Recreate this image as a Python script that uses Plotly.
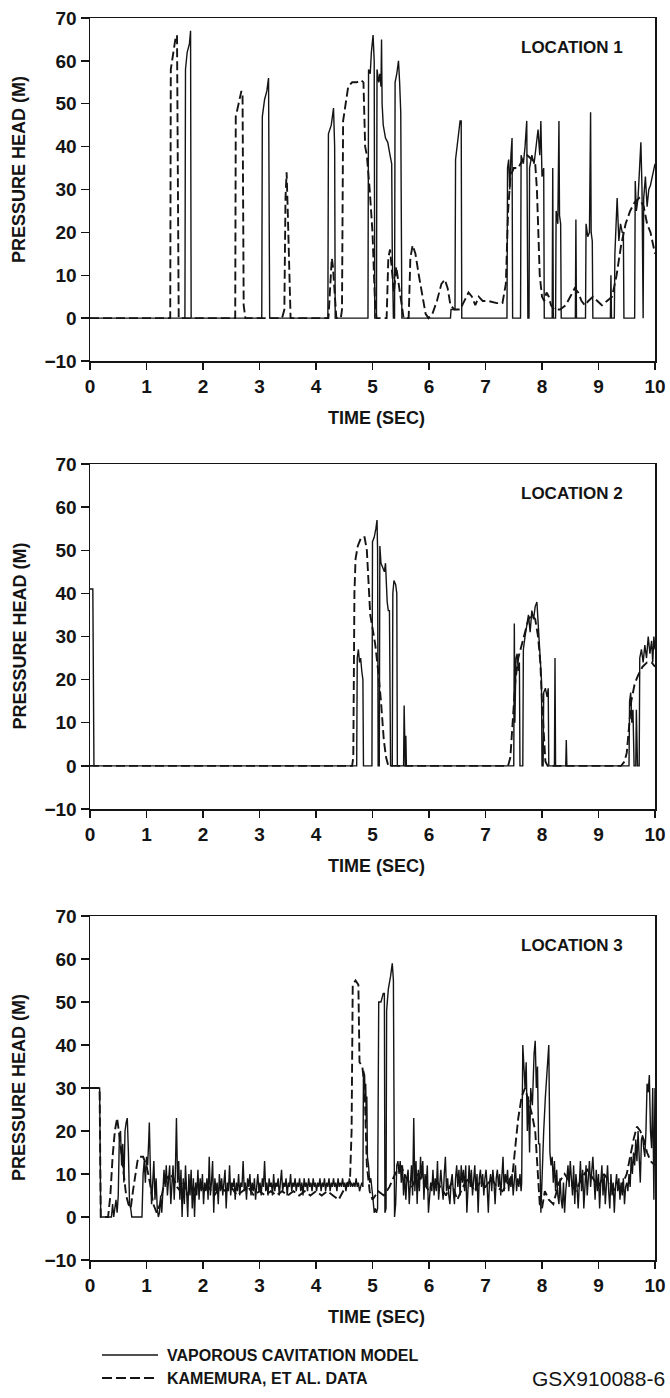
import plotly.graph_objects as go

# ---------------- DATA (time s, pressure head m) ----------------
LOC1_MODEL = [
    (0, 0), (1.68, 0), (1.69, 58), (1.72, 62), (1.76, 64), (1.78, 67), (1.79, 0),
    (3.04, 0), (3.05, 47), (3.09, 51), (3.13, 53), (3.16, 56), (3.18, 0),
    (4.21, 0), (4.22, 43), (4.27, 45), (4.31, 49), (4.33, 40), (4.34, 0),
    (4.92, 0), (4.93, 58), (4.96, 57), (4.98, 62), (5.01, 66), (5.03, 60), (5.04, 0),
    (5.07, 0), (5.08, 58), (5.11, 55), (5.13, 57), (5.15, 54), (5.16, 65), (5.17, 50),
    (5.19, 45), (5.23, 42), (5.27, 41), (5.31, 38), (5.34, 36), (5.35, 15), (5.36, 8), (5.37, 0),
    (5.39, 0), (5.40, 55), (5.43, 57), (5.46, 60), (5.48, 55), (5.50, 48), (5.52, 0),
    (6.38, 0), (6.39, 2), (6.46, 2), (6.47, 37), (6.50, 40), (6.53, 44), (6.55, 46),
    (6.57, 46), (6.58, 0),
    (7.38, 0), (7.39, 35), (7.41, 37), (7.43, 30), (7.45, 38), (7.47, 42), (7.48, 0),
    (7.62, 0), (7.63, 38), (7.67, 36), (7.70, 40), (7.73, 46), (7.75, 0), (7.77, 0),
    (7.78, 35), (7.82, 38), (7.86, 36), (7.90, 41), (7.93, 44), (7.96, 38), (7.98, 46),
    (8.00, 33), (8.03, 35), (8.04, 0),
    (8.18, 0), (8.19, 35), (8.20, 0), (8.24, 0), (8.25, 25), (8.28, 22), (8.30, 46),
    (8.31, 24), (8.33, 22), (8.34, 0),
    (8.59, 0), (8.60, 23), (8.61, 0), (8.77, 0), (8.78, 22), (8.81, 19), (8.84, 20),
    (8.86, 48), (8.87, 20), (8.89, 18), (8.90, 0),
    (9.21, 0), (9.22, 10), (9.23, 0), (9.28, 0), (9.29, 15), (9.31, 22), (9.33, 28),
    (9.36, 18), (9.39, 22), (9.42, 20), (9.44, 20), (9.45, 0),
    (9.64, 0), (9.65, 32), (9.67, 25), (9.70, 28), (9.73, 35), (9.75, 41), (9.77, 30),
    (9.79, 0), (9.80, 28), (9.83, 33), (9.86, 26), (9.89, 30), (9.92, 31), (9.95, 33),
    (9.98, 35), (10.0, 36),
]
LOC1_DATA = [
    (0, 0), (1.42, 0), (1.43, 58), (1.47, 62), (1.51, 65), (1.54, 66), (1.56, 1), (1.57, 0),
    (2.57, 0), (2.58, 47), (2.63, 50), (2.68, 53), (2.70, 52), (2.72, 3), (2.74, 1), (2.75, 0),
    (3.40, 0), (3.44, 2), (3.46, 28), (3.48, 34), (3.50, 25), (3.53, 12), (3.55, 0),
    (4.22, 0), (4.25, 6), (4.28, 14), (4.30, 12), (4.33, 5), (4.36, 0),
    (4.44, 0), (4.46, 2), (4.48, 46), (4.52, 50), (4.57, 54), (4.64, 55), (4.72, 55),
    (4.80, 55.5), (4.84, 55), (4.87, 40), (4.90, 38), (4.95, 30), (5.00, 20), (5.04, 5),
    (5.07, 0),
    (5.25, 0), (5.28, 14), (5.31, 16), (5.35, 10), (5.38, 6), (5.42, 12), (5.46, 8),
    (5.50, 5), (5.53, 2), (5.55, 0), (5.64, 0), (5.67, 14), (5.71, 17), (5.76, 15),
    (5.82, 10), (5.88, 5), (5.94, 1), (5.99, 0), (6.06, 1), (6.14, 4), (6.22, 8),
    (6.28, 9), (6.33, 7), (6.38, 3), (6.45, 2), (6.55, 2), (6.62, 4), (6.70, 6),
    (6.76, 5), (6.82, 3), (6.88, 5), (6.95, 4), (7.05, 4), (7.20, 3.5), (7.30, 3.5),
    (7.36, 8), (7.40, 25), (7.44, 33), (7.50, 35), (7.58, 35), (7.66, 37), (7.74, 38),
    (7.82, 37), (7.88, 36), (7.91, 30), (7.93, 20), (7.96, 10), (8.00, 5), (8.04, 4),
    (8.08, 6), (8.12, 5), (8.16, 3), (8.22, 2), (8.32, 2), (8.42, 3), (8.50, 5),
    (8.58, 7), (8.64, 6), (8.70, 4), (8.76, 3), (8.82, 4), (8.90, 5), (8.98, 4),
    (9.06, 3), (9.15, 4), (9.24, 5), (9.32, 10), (9.40, 17), (9.48, 22), (9.56, 25),
    (9.64, 27), (9.72, 28), (9.80, 26), (9.86, 22), (9.92, 20), (9.97, 17), (10.0, 15),
]
LOC2_MODEL = [
    (0, 41), (0.05, 41), (0.07, 0), (4.72, 0), (4.73, 25), (4.75, 27), (4.77, 24),
    (4.79, 25), (4.81, 22), (4.83, 20), (4.84, 0), (4.99, 0), (5.00, 52), (5.03, 53),
    (5.06, 55), (5.08, 57), (5.09, 50), (5.10, 0), (5.12, 0), (5.13, 51), (5.15, 47),
    (5.18, 46), (5.21, 45), (5.23, 47), (5.24, 44), (5.26, 38), (5.28, 36), (5.30, 36),
    (5.32, 0), (5.35, 0), (5.36, 40), (5.38, 43), (5.41, 42), (5.43, 40), (5.44, 0),
    (5.55, 0), (5.56, 14), (5.57, 0), (5.58, 0), (5.59, 7), (5.60, 0),
    (7.50, 0), (7.51, 33), (7.52, 10), (7.54, 25), (7.56, 26), (7.58, 22), (7.60, 24),
    (7.61, 0), (7.66, 0), (7.67, 27), (7.70, 30), (7.73, 33), (7.76, 35), (7.79, 31),
    (7.82, 36), (7.85, 34), (7.88, 37), (7.91, 38), (7.93, 33), (7.95, 30), (7.97, 25),
    (7.99, 20), (8.00, 0), (8.02, 0), (8.03, 17), (8.06, 18), (8.09, 16), (8.11, 18),
    (8.12, 0), (8.22, 0), (8.23, 25), (8.24, 0), (8.42, 0), (8.43, 6), (8.44, 0),
    (9.54, 0), (9.55, 15), (9.57, 17), (9.59, 10), (9.61, 13), (9.63, 0), (9.66, 0),
    (9.67, 13), (9.69, 0), (9.72, 0), (9.73, 25), (9.76, 27), (9.79, 24), (9.82, 28),
    (9.85, 25), (9.88, 30), (9.91, 26), (9.94, 29), (9.96, 24), (9.98, 30), (10.0, 27),
]
LOC2_DATA = [
    (0, 0), (4.64, 0), (4.66, 2), (4.68, 40), (4.70, 48), (4.74, 51), (4.80, 53),
    (4.86, 53), (4.90, 50), (4.93, 42), (4.96, 35), (5.00, 32), (5.05, 28), (5.10, 22),
    (5.15, 15), (5.20, 6), (5.24, 2), (5.28, 0),
    (7.40, 0), (7.44, 2), (7.47, 8), (7.50, 15), (7.53, 20), (7.58, 25), (7.64, 28),
    (7.70, 31), (7.76, 34), (7.82, 35), (7.88, 34), (7.93, 30), (7.97, 24), (8.00, 15),
    (8.03, 6), (8.06, 1), (8.10, 0),
    (9.40, 0), (9.46, 1), (9.50, 3), (9.54, 9), (9.58, 15), (9.64, 19), (9.70, 21),
    (9.78, 23), (9.86, 24), (9.94, 24), (10.0, 23),
]
LOC3_MODEL = [
    (0, 30), (0.17, 30), (0.19, 0), (0.38, 0), (0.40, 3), (0.42, 0), (0.44, 2), (0.46, 4),
    (0.48, 1), (0.50, 5), (0.52, 19), (0.54, 20), (0.56, 12), (0.58, 17), (0.60, 8),
    (0.62, 20), (0.64, 22), (0.66, 23), (0.68, 15), (0.70, 3), (0.72, 2), (0.74, 0),
    (0.92, 0), (0.94, 10), (0.96, 13), (0.98, 8), (1.00, 14), (1.02, 12), (1.04, 18),
    (1.05, 22), (1.07, 10), (1.09, 3), (1.11, 8), (1.13, 13), (1.15, 4), (1.17, 9),
    (1.19, 2), (1.21, 0), (1.23, 1), (1.25, 5), (1.27, 1), (1.29, 8), (1.31, 11),
    (1.33, 7), (1.35, 12), (1.37, 5), (1.39, 10), (1.41, 12), (1.43, 3), (1.45, 9),
    (1.47, 12), (1.49, 4), (1.51, 10), (1.53, 23), (1.55, 8), (1.57, 13), (1.59, 4),
    (1.61, 11), (1.63, 0), (1.65, 9), (1.67, 3), (1.69, 12), (1.71, 6), (1.73, 0),
    (1.75, 10), (1.77, 5), (1.79, 11), (1.81, 2), (1.83, 9), (1.85, 0), (1.87, 8),
    (1.89, 5), (1.91, 11), (1.93, 4), (1.95, 9), (1.97, 6), (1.99, 10), (2.01, 3),
    (2.03, 8), (2.05, 6), (2.07, 9), (2.09, 4), (2.11, 14), (2.13, 5), (2.15, 8),
    (2.17, 13), (2.19, 1), (2.21, 9), (2.23, 6), (2.25, 8), (2.27, 3), (2.29, 10),
    (2.31, 6), (2.33, 9), (2.35, 5), (2.37, 8), (2.39, 11), (2.41, 2), (2.43, 8),
    (2.45, 6), (2.47, 12), (2.49, 5), (2.51, 8), (2.53, 7), (2.55, 9), (2.57, 4),
    (2.59, 8), (2.61, 6), (2.63, 10), (2.65, 5), (2.67, 8), (2.69, 7), (2.71, 13),
    (2.73, 6), (2.75, 8), (2.77, 4), (2.79, 9), (2.81, 7), (2.83, 10), (2.85, 5),
    (2.87, 8), (2.89, 6), (2.91, 9), (2.93, 4), (2.95, 8), (2.97, 10), (2.99, 6),
    (3.01, 8), (3.03, 5), (3.05, 9), (3.07, 7), (3.09, 13), (3.11, 6), (3.13, 8),
    (3.15, 5), (3.17, 9), (3.19, 7), (3.21, 8), (3.23, 5), (3.25, 10), (3.27, 6),
    (3.29, 8), (3.31, 7), (3.33, 9), (3.35, 5), (3.37, 8), (3.39, 11), (3.41, 6),
    (3.43, 8), (3.45, 7), (3.47, 9), (3.49, 5), (3.51, 8), (3.53, 7), (3.55, 10),
    (3.57, 6), (3.59, 8), (3.61, 7), (3.63, 9), (3.65, 6), (3.67, 8), (3.69, 7),
    (3.71, 9), (3.73, 6), (3.75, 8), (3.77, 5), (3.79, 9), (3.81, 7), (3.83, 8),
    (3.85, 6), (3.87, 9), (3.89, 7), (3.91, 8), (3.93, 6), (3.95, 9), (3.97, 7),
    (3.99, 8), (4.01, 6), (4.03, 8), (4.05, 7), (4.07, 9), (4.09, 6), (4.11, 8),
    (4.13, 7), (4.15, 9), (4.17, 6), (4.19, 8), (4.21, 7), (4.23, 9), (4.25, 6),
    (4.27, 8), (4.29, 7), (4.31, 9), (4.33, 7), (4.35, 8), (4.37, 6), (4.39, 9),
    (4.41, 7), (4.43, 8), (4.45, 7), (4.47, 9), (4.49, 7), (4.51, 8), (4.53, 6),
    (4.55, 8), (4.57, 7), (4.59, 9), (4.61, 7), (4.63, 8), (4.65, 7), (4.67, 8),
    (4.69, 7), (4.71, 9), (4.73, 7), (4.75, 8), (4.77, 6), (4.79, 7), (4.81, 8),
    (4.83, 7), (4.84, 34), (4.86, 33), (4.87, 27), (4.88, 31), (4.89, 22), (4.90, 28),
    (4.91, 14), (4.93, 12), (4.95, 8), (4.97, 9), (4.99, 7), (5.01, 4), (5.03, 1),
    (5.05, 2), (5.07, 1), (5.09, 2), (5.11, 50), (5.15, 50), (5.19, 52), (5.21, 52),
    (5.22, 1), (5.24, 2), (5.25, 48), (5.28, 53), (5.32, 56), (5.35, 59), (5.37, 55),
    (5.39, 0), (5.41, 3), (5.43, 12), (5.45, 13), (5.47, 10), (5.49, 13), (5.51, 8),
    (5.53, 12), (5.55, 5), (5.57, 10), (5.59, 4), (5.61, 9), (5.63, 11), (5.65, 3),
    (5.67, 8), (5.69, 12), (5.71, 5), (5.73, 23), (5.75, 6), (5.77, 13), (5.79, 3),
    (5.81, 11), (5.83, 6), (5.85, 14), (5.87, 9), (5.89, 13), (5.91, 4), (5.93, 10),
    (5.95, 7), (5.97, 12), (5.99, 1), (6.01, 5), (6.03, 8), (6.05, 6), (6.07, 11),
    (6.09, 5), (6.11, 9), (6.13, 6), (6.15, 13), (6.17, 4), (6.19, 8), (6.21, 11),
    (6.23, 7), (6.25, 4), (6.27, 10), (6.29, 14), (6.31, 6), (6.33, 9), (6.35, 5),
    (6.37, 3), (6.39, 8), (6.41, 10), (6.43, 6), (6.45, 3), (6.47, 9), (6.49, 12),
    (6.51, 7), (6.53, 11), (6.55, 5), (6.57, 12), (6.59, 8), (6.61, 11), (6.63, 6),
    (6.65, 12), (6.67, 1), (6.69, 9), (6.71, 12), (6.73, 7), (6.75, 11), (6.77, 5),
    (6.79, 9), (6.81, 12), (6.83, 6), (6.85, 10), (6.87, 1), (6.89, 9), (6.91, 11),
    (6.93, 7), (6.95, 10), (6.97, 5), (6.99, 9), (7.01, 11), (7.03, 7), (7.05, 1),
    (7.07, 8), (7.09, 10), (7.11, 6), (7.13, 11), (7.15, 8), (7.17, 3), (7.19, 9),
    (7.21, 11), (7.23, 7), (7.25, 10), (7.27, 5), (7.29, 9), (7.31, 14), (7.33, 6),
    (7.35, 10), (7.37, 8), (7.39, 11), (7.41, 6), (7.43, 9), (7.45, 7), (7.47, 10),
    (7.49, 5), (7.51, 9), (7.53, 12), (7.55, 6), (7.57, 9), (7.59, 7), (7.61, 10),
    (7.63, 6), (7.64, 8), (7.66, 40), (7.68, 35), (7.70, 30), (7.72, 36), (7.74, 20),
    (7.76, 28), (7.78, 15), (7.80, 30), (7.83, 26), (7.86, 38), (7.88, 41), (7.90, 30),
    (7.92, 35), (7.94, 17), (7.96, 17), (7.98, 1), (8.00, 10), (8.03, 20), (8.06, 28),
    (8.09, 33), (8.12, 40), (8.14, 15), (8.16, 12), (8.18, 14), (8.20, 8), (8.22, 13),
    (8.24, 6), (8.26, 11), (8.28, 5), (8.30, 3), (8.32, 9), (8.34, 4), (8.36, 2),
    (8.38, 8), (8.40, 1), (8.42, 6), (8.44, 10), (8.46, 12), (8.48, 7), (8.50, 13),
    (8.52, 9), (8.54, 5), (8.56, 12), (8.58, 3), (8.60, 10), (8.62, 7), (8.64, 2),
    (8.66, 9), (8.68, 13), (8.70, 6), (8.72, 11), (8.74, 2), (8.76, 8), (8.78, 12),
    (8.80, 5), (8.82, 10), (8.84, 13), (8.86, 7), (8.88, 11), (8.90, 14), (8.92, 9),
    (8.94, 4), (8.96, 11), (8.98, 6), (9.00, 10), (9.02, 2), (9.04, 8), (9.06, 12),
    (9.08, 5), (9.10, 10), (9.12, 3), (9.14, 9), (9.16, 12), (9.18, 6), (9.20, 2),
    (9.22, 10), (9.24, 5), (9.26, 8), (9.28, 1), (9.30, 7), (9.32, 10), (9.34, 6),
    (9.36, 9), (9.38, 4), (9.40, 8), (9.42, 5), (9.44, 9), (9.46, 3), (9.48, 7),
    (9.50, 8), (9.52, 6), (9.54, 10), (9.56, 7), (9.58, 14), (9.60, 10), (9.62, 15),
    (9.64, 12), (9.66, 18), (9.68, 13), (9.70, 20), (9.72, 15), (9.74, 8), (9.76, 18),
    (9.78, 19), (9.80, 16), (9.82, 14), (9.84, 20), (9.86, 31), (9.88, 29), (9.90, 33),
    (9.92, 20), (9.94, 16), (9.96, 30), (9.98, 4), (10.0, 30),
]
LOC3_DATA = [
    (0, 30), (0.17, 30), (0.19, 0), (0.32, 0), (0.36, 5), (0.40, 14), (0.44, 20),
    (0.48, 23), (0.52, 19), (0.56, 14), (0.60, 9), (0.64, 5), (0.68, 3), (0.72, 2),
    (0.76, 6), (0.80, 10), (0.84, 13), (0.88, 14), (0.94, 14), (1.00, 12), (1.06, 8),
    (1.12, 3), (1.18, 1), (1.24, 3), (1.30, 7), (1.36, 9), (1.42, 10), (1.48, 9),
    (1.54, 7), (1.60, 6), (1.66, 8), (1.72, 5), (1.78, 7), (1.84, 6), (1.90, 8),
    (2.00, 6), (2.10, 7), (2.20, 5), (2.30, 7), (2.40, 6), (2.50, 7), (2.60, 5),
    (2.70, 6), (2.80, 7), (2.90, 5), (3.00, 6), (3.10, 5), (3.20, 6), (3.30, 5),
    (3.40, 6), (3.50, 5), (3.60, 6), (3.70, 5), (3.80, 6), (3.90, 5), (4.00, 6),
    (4.10, 5), (4.20, 6), (4.30, 5), (4.40, 4), (4.48, 6), (4.56, 8), (4.60, 8),
    (4.63, 20), (4.65, 54), (4.70, 55), (4.75, 54), (4.77, 36), (4.82, 35), (4.86, 30),
    (4.90, 12), (4.95, 6), (5.00, 4), (5.10, 6), (5.20, 5), (5.30, 7), (5.40, 10),
    (5.50, 12), (5.60, 9), (5.70, 7), (5.80, 10), (5.90, 8), (6.00, 6), (6.10, 9),
    (6.20, 7), (6.30, 5), (6.40, 8), (6.50, 4), (6.60, 7), (6.70, 9), (6.80, 6),
    (6.90, 8), (7.00, 7), (7.10, 9), (7.20, 7), (7.30, 6), (7.40, 8), (7.48, 10),
    (7.54, 18), (7.58, 23), (7.64, 28), (7.70, 30), (7.76, 27), (7.82, 24), (7.88, 20),
    (7.92, 10), (7.96, 3), (8.00, 2), (8.05, 6), (8.12, 4), (8.20, 3), (8.30, 8),
    (8.40, 10), (8.50, 8), (8.60, 6), (8.70, 9), (8.80, 11), (8.90, 9), (9.00, 7),
    (9.10, 10), (9.20, 8), (9.30, 6), (9.40, 7), (9.50, 10), (9.56, 14), (9.62, 18),
    (9.68, 21), (9.74, 20), (9.80, 18), (9.86, 15), (9.92, 13), (10.0, 12),
]
PANELS = [
    ("LOCATION 1", LOC1_MODEL, LOC1_DATA),
    ("LOCATION 2", LOC2_MODEL, LOC2_DATA),
    ("LOCATION 3", LOC3_MODEL, LOC3_DATA),
]
X_TICKS = [0, 1, 2, 3, 4, 5, 6, 7, 8, 9, 10]
Y_TICKS = [-10, 0, 10, 20, 30, 40, 50, 60, 70]
NAME_MODEL = "VAPOROUS CAVITATION MODEL"
NAME_DATA = "KAMEMURA, ET AL. DATA"
X_TITLE = "TIME (SEC)"
Y_TITLE = "PRESSURE HEAD (M)"
FIG_ID = "GSX910088-6"

# ---------------- LAYOUT ----------------
W, H = 670, 1398
INK = "#141414"
BOLD = "Liberation Sans Narrow, Arial Narrow, Liberation Sans, Arial, sans-serif"
PLAIN = "Liberation Sans, Arial, sans-serif"

# panel extents in page pixels (top, bottom)
PANEL_PX = [(18, 361), (464, 809), (916, 1260)]
X_PX = (90, 655)


def fx(p):
    return p / W


def fy(p):
    return 1 - p / H


fig = go.Figure()
annotations = []
shapes = []
layout = {}

for i, (label, model, data) in enumerate(PANELS):
    n = i + 1
    xa = "x" if n == 1 else f"x{n}"
    ya = "y" if n == 1 else f"y{n}"
    top, bot = PANEL_PX[i]
    dt, dv = zip(*data)
    mt, mv = zip(*model)
    fig.add_trace(go.Scatter(x=dt, y=dv, mode="lines", xaxis=xa, yaxis=ya,
                             line=dict(color=INK, width=1.9, dash="9px,4px"),
                             name=NAME_DATA, showlegend=False))
    fig.add_trace(go.Scatter(x=mt, y=mv, mode="lines", xaxis=xa, yaxis=ya,
                             line=dict(color=INK, width=1.4),
                             name=NAME_MODEL, showlegend=False))
    axcommon = dict(showline=True, linecolor=INK, linewidth=1.5, mirror=True,
                    ticks="outside", tickcolor=INK, tickwidth=1.3,
                    showgrid=False, zeroline=False, automargin=False,
                    ticklabeloverflow="allow",
                    tickfont=dict(family=BOLD, size=19, color=INK, weight="bold"))
    layout["xaxis" if n == 1 else f"xaxis{n}"] = dict(
        axcommon, domain=[fx(X_PX[0]), fx(X_PX[1])], range=[0, 10],
        tickvals=X_TICKS, ticklen=7, ticklabelstandoff=1,
        anchor=ya)
    layout["yaxis" if n == 1 else f"yaxis{n}"] = dict(
        axcommon, domain=[fy(bot), fy(top)], range=[-10, 70],
        tickvals=Y_TICKS, ticklen=8, ticklabelstandoff=0,
        anchor=xa)
    # location label
    annotations.append(dict(text=label, xref="paper", yref="paper",
                            x=fx(572), y=fy(top + 29), xanchor="center", yanchor="middle",
                            showarrow=False,
                            font=dict(family=BOLD, size=17, color=INK, weight="bold")))
    # x title
    annotations.append(dict(text=X_TITLE, xref="paper", yref="paper",
                            x=fx(376), y=fy(bot + 57), xanchor="center", yanchor="middle",
                            showarrow=False,
                            font=dict(family=BOLD, size=18, color=INK, weight="bold")))
    # y title
    ycen = 170 if n == 1 else (top + bot) / 2
    annotations.append(dict(text=Y_TITLE, xref="paper", yref="paper",
                            x=fx(19), y=fy(ycen), xanchor="center", yanchor="middle",
                            textangle=-90, showarrow=False,
                            font=dict(family=BOLD, size=18, color=INK, weight="bold")))

# legend (drawn below the last panel)
shapes.append(dict(type="line", xref="paper", yref="paper",
                   x0=fx(102), x1=fx(158), y0=fy(1355), y1=fy(1355),
                   line=dict(color=INK, width=1.5)))
shapes.append(dict(type="line", xref="paper", yref="paper",
                   x0=fx(102), x1=fx(158), y0=fy(1378), y1=fy(1378),
                   line=dict(color=INK, width=1.8, dash="10px,4px")))
annotations.append(dict(text=NAME_MODEL, xref="paper", yref="paper",
                        x=fx(165), y=fy(1355), xanchor="left", yanchor="middle",
                        showarrow=False,
                        font=dict(family=BOLD, size=16, color=INK, weight="bold")))
annotations.append(dict(text=NAME_DATA, xref="paper", yref="paper",
                        x=fx(165), y=fy(1378), xanchor="left", yanchor="middle",
                        showarrow=False,
                        font=dict(family=BOLD, size=16, color=INK, weight="bold")))
annotations.append(dict(text=FIG_ID, xref="paper", yref="paper",
                        x=fx(667), y=fy(1378), xanchor="right", yanchor="middle",
                        showarrow=False,
                        font=dict(family=PLAIN, size=21, color=INK)))

fig.update_layout(
    template="none",
    width=W, height=H,
    margin=dict(l=0, r=0, t=0, b=0, pad=0),
    paper_bgcolor="white", plot_bgcolor="white",
    showlegend=False,
    annotations=annotations, shapes=shapes,
    **layout,
)

fig.write_html(
    "out.html",
    config={"displayModeBar": False, "staticPlot": True},
    post_script="document.body.style.margin='0';document.body.style.overflow='hidden';",
)
